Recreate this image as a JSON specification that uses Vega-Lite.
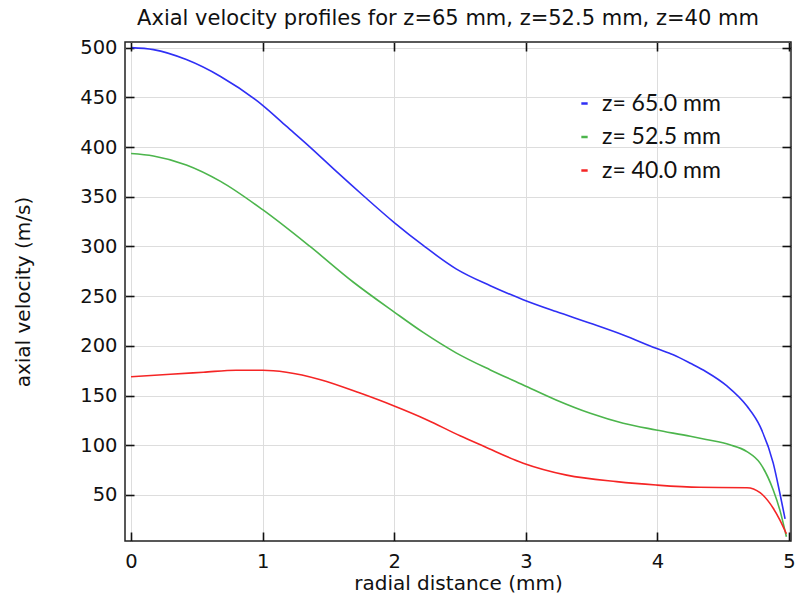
{
  "$schema": "https://vega.github.io/schema/vega-lite/v6.json",
  "width": 666,
  "height": 499,
  "autosize": {"type": "none"},
  "padding": {"left": 125, "top": 42, "right": 5, "bottom": 53},
  "background": "white",
  "title": {
    "text": "Axial velocity profiles for z=65 mm, z=52.5 mm, z=40 mm",
    "font": "DejaVu Sans",
    "fontSize": 21,
    "fontWeight": "normal",
    "color": "#111111",
    "offset": 9,
    "dx": -10
  },
  "config": {
    "view": {"stroke": "#222222", "strokeWidth": 1.5},
    "axis": {
      "labelFont": "DejaVu Sans",
      "labelFontSize": 19.5,
      "labelColor": "#111111",
      "titleFont": "DejaVu Sans",
      "titleFontSize": 20,
      "titleFontWeight": "normal",
      "titleColor": "#111111",
      "gridColor": "#dddddd",
      "gridWidth": 1,
      "domain": false
    }
  },
  "data": {
    "values": [
      {"r": 0, "v": 500, "z": "z= 65.0 mm"},
      {"r": 0.17, "v": 498, "z": "z= 65.0 mm"},
      {"r": 0.42, "v": 488, "z": "z= 65.0 mm"},
      {"r": 0.68, "v": 471, "z": "z= 65.0 mm"},
      {"r": 1.0, "v": 442, "z": "z= 65.0 mm"},
      {"r": 1.18, "v": 421, "z": "z= 65.0 mm"},
      {"r": 1.36, "v": 400, "z": "z= 65.0 mm"},
      {"r": 1.56, "v": 375.5, "z": "z= 65.0 mm"},
      {"r": 1.77, "v": 350.5, "z": "z= 65.0 mm"},
      {"r": 2.0, "v": 324, "z": "z= 65.0 mm"},
      {"r": 2.22, "v": 301, "z": "z= 65.0 mm"},
      {"r": 2.47, "v": 277.5, "z": "z= 65.0 mm"},
      {"r": 2.73, "v": 260.5, "z": "z= 65.0 mm"},
      {"r": 2.98, "v": 246.5, "z": "z= 65.0 mm"},
      {"r": 3.23, "v": 234.5, "z": "z= 65.0 mm"},
      {"r": 3.49, "v": 222.8, "z": "z= 65.0 mm"},
      {"r": 3.74, "v": 211, "z": "z= 65.0 mm"},
      {"r": 3.99, "v": 197.5, "z": "z= 65.0 mm"},
      {"r": 4.12, "v": 191, "z": "z= 65.0 mm"},
      {"r": 4.25, "v": 182.5, "z": "z= 65.0 mm"},
      {"r": 4.37, "v": 174, "z": "z= 65.0 mm"},
      {"r": 4.53, "v": 159.5, "z": "z= 65.0 mm"},
      {"r": 4.68, "v": 139.5, "z": "z= 65.0 mm"},
      {"r": 4.78, "v": 119, "z": "z= 65.0 mm"},
      {"r": 4.88, "v": 82, "z": "z= 65.0 mm"},
      {"r": 4.93, "v": 52, "z": "z= 65.0 mm"},
      {"r": 4.97, "v": 26, "z": "z= 65.0 mm"},
      {"r": 0, "v": 393.5, "z": "z= 52.5 mm"},
      {"r": 0.17, "v": 391, "z": "z= 52.5 mm"},
      {"r": 0.42, "v": 382, "z": "z= 52.5 mm"},
      {"r": 0.68, "v": 365.5, "z": "z= 52.5 mm"},
      {"r": 1.0, "v": 337, "z": "z= 52.5 mm"},
      {"r": 1.36, "v": 300, "z": "z= 52.5 mm"},
      {"r": 1.69, "v": 264, "z": "z= 52.5 mm"},
      {"r": 2.0, "v": 234, "z": "z= 52.5 mm"},
      {"r": 2.22, "v": 213.5, "z": "z= 52.5 mm"},
      {"r": 2.47, "v": 193, "z": "z= 52.5 mm"},
      {"r": 2.73, "v": 175.8, "z": "z= 52.5 mm"},
      {"r": 2.98, "v": 160.7, "z": "z= 52.5 mm"},
      {"r": 3.23, "v": 145.6, "z": "z= 52.5 mm"},
      {"r": 3.49, "v": 132.2, "z": "z= 52.5 mm"},
      {"r": 3.74, "v": 122.2, "z": "z= 52.5 mm"},
      {"r": 3.99, "v": 115.4, "z": "z= 52.5 mm"},
      {"r": 4.25, "v": 109, "z": "z= 52.5 mm"},
      {"r": 4.37, "v": 105.8, "z": "z= 52.5 mm"},
      {"r": 4.55, "v": 100.5, "z": "z= 52.5 mm"},
      {"r": 4.68, "v": 93.6, "z": "z= 52.5 mm"},
      {"r": 4.78, "v": 82, "z": "z= 52.5 mm"},
      {"r": 4.88, "v": 55, "z": "z= 52.5 mm"},
      {"r": 4.93, "v": 35, "z": "z= 52.5 mm"},
      {"r": 4.98, "v": 8, "z": "z= 52.5 mm"},
      {"r": 0, "v": 169, "z": "z= 40.0 mm"},
      {"r": 0.3, "v": 171.5, "z": "z= 40.0 mm"},
      {"r": 0.55, "v": 173.5, "z": "z= 40.0 mm"},
      {"r": 0.8, "v": 175.5, "z": "z= 40.0 mm"},
      {"r": 1.0, "v": 175.5, "z": "z= 40.0 mm"},
      {"r": 1.18, "v": 173.5, "z": "z= 40.0 mm"},
      {"r": 1.44, "v": 166, "z": "z= 40.0 mm"},
      {"r": 1.74, "v": 152.5, "z": "z= 40.0 mm"},
      {"r": 1.99, "v": 140, "z": "z= 40.0 mm"},
      {"r": 2.25, "v": 125.5, "z": "z= 40.0 mm"},
      {"r": 2.5, "v": 109.5, "z": "z= 40.0 mm"},
      {"r": 2.68, "v": 99, "z": "z= 40.0 mm"},
      {"r": 2.98, "v": 82, "z": "z= 40.0 mm"},
      {"r": 3.31, "v": 70, "z": "z= 40.0 mm"},
      {"r": 3.69, "v": 63.4, "z": "z= 40.0 mm"},
      {"r": 3.99, "v": 60, "z": "z= 40.0 mm"},
      {"r": 4.32, "v": 57.7, "z": "z= 40.0 mm"},
      {"r": 4.68, "v": 57.3, "z": "z= 40.0 mm"},
      {"r": 4.78, "v": 52.3, "z": "z= 40.0 mm"},
      {"r": 4.88, "v": 36.6, "z": "z= 40.0 mm"},
      {"r": 4.93, "v": 25, "z": "z= 40.0 mm"},
      {"r": 4.98, "v": 11, "z": "z= 40.0 mm"}
    ]
  },
  "layer": [
    {
      "mark": {"type": "line", "strokeWidth": 1.6, "interpolate": "monotone"},
      "encoding": {
        "x": {
          "field": "r", "type": "quantitative",
          "scale": {"domain": [-0.046, 5.015], "nice": false, "zero": false},
          "axis": {"orient": "bottom", "title": "radial distance (mm)", "values": [0, 1, 2, 3, 4, 5], "offset": -9, "ticks": true, "tickSize": 9, "tickWidth": 1.6, "tickColor": "#111111", "labelPadding": 11, "titleY": 41, "grid": true}
        },
        "y": {
          "field": "v", "type": "quantitative",
          "scale": {"domain": [3.7, 505.7], "nice": false, "zero": false},
          "axis": {"orient": "left", "title": "axial velocity (m/s)", "values": [50, 100, 150, 200, 250, 300, 350, 400, 450, 500], "offset": -9, "ticks": true, "tickSize": 9, "tickWidth": 1.6, "tickColor": "#111111", "labelPadding": 8, "titleX": -101, "grid": true}
        },
        "color": {
          "field": "z", "type": "nominal",
          "scale": {"domain": ["z= 65.0 mm", "z= 52.5 mm", "z= 40.0 mm"], "range": ["#2f2ff5", "#4cb54c", "#f52525"]},
          "legend": {
            "orient": "none", "legendX": 448, "legendY": 50, "title": null,
            "symbolType": "stroke", "symbolSize": 40, "symbolStrokeWidth": 2.5,
            "labelFont": "Lato", "labelFontSize": 23, "labelColor": "#111111",
            "labelOffset": 6, "rowPadding": 9.5
          }
        }
      }
    },
    {
      "mark": {"type": "line", "opacity": 0},
      "encoding": {
        "x": {
          "field": "r", "type": "quantitative",
          "axis": {"orient": "top", "title": null, "labels": false, "values": [0, 1, 2, 3, 4, 5], "offset": -9, "ticks": true, "tickSize": 9, "tickWidth": 1.6, "tickColor": "#111111", "grid": false, "zindex": 1}
        },
        "y": {
          "field": "v", "type": "quantitative",
          "axis": {"orient": "right", "title": null, "labels": false, "values": [50, 100, 150, 200, 250, 300, 350, 400, 450, 500], "offset": -9, "ticks": true, "tickSize": 9, "tickWidth": 1.6, "tickColor": "#111111", "grid": false, "zindex": 1}
        },
        "detail": {"field": "z"}
      }
    }
  ],
  "resolve": {"axis": {"x": "independent", "y": "independent"}}
}
